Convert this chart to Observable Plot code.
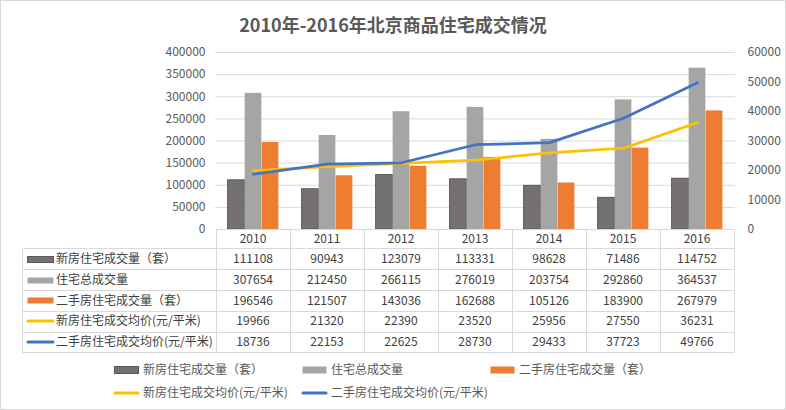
<!DOCTYPE html>
<html><head><meta charset="utf-8">
<script src="https://cdn.jsdelivr.net/npm/d3@7"></script>
<script src="https://cdn.jsdelivr.net/npm/@observablehq/plot@0.6"></script>
<style>
body{margin:0;background:#fff;}
#wrap{position:relative;width:786px;height:410px;overflow:hidden;font-family:"Noto Sans CJK SC",sans-serif;background:#fff;}
#title{position:absolute;top:10px;left:0;width:786px;text-align:center;font-size:18px;font-weight:bold;color:#595959;line-height:28px;}
#chart{position:absolute;left:0;top:40px;}
#overlay{position:absolute;left:0;top:0;}
#frame{position:absolute;left:0;top:0;width:786px;height:410px;box-sizing:border-box;border:1px solid #d9d9d9;pointer-events:none;}
</style></head>
<body><div id="wrap"><div id="title">2010年-2016年北京商品住宅成交情况</div><div id="chart"></div><svg id="overlay" width="786" height="410"></svg><div id="frame"></div></div>
<script>
const years = ["2010", "2011", "2012", "2013", "2014", "2015", "2016"];
const newUnits = [111108, 90943, 123079, 113331, 98628, 71486, 114752];
const totalUnits = [307654, 212450, 266115, 276019, 203754, 292860, 364537];
const resaleUnits = [196546, 121507, 143036, 162688, 105126, 183900, 267979];
const newPrice = [19966, 21320, 22390, 23520, 25956, 27550, 36231];
const resalePrice = [18736, 22153, 22625, 28730, 29433, 37723, 49766];
const seriesNames = ["新房住宅成交量（套）", "住宅总成交量", "二手房住宅成交量（套）", "新房住宅成交均价(元/平米)", "二手房住宅成交均价(元/平米)"];
const leftTicks = [0, 50000, 100000, 150000, 200000, 250000, 300000, 350000, 400000];
const rightTicks = [0, 10000, 20000, 30000, 40000, 50000, 60000];

const colors = ["#767171", "#a5a5a5", "#ed7d31", "#ffc000", "#4472c4"];
const kinds = ["bar", "bar", "bar", "line", "line"];
const allSeries = [newUnits, totalUnits, resaleUnits, newPrice, resalePrice];
const k = 400000 / 60000;

const W = 786, mL = 215, mR = 51;
const bw = (W - mL - mR) / years.length;
const barW = bw * 0.229;
const off = (bw - 3 * barW) / 2;

const barMarks = [0, 1, 2].map(j => {
  const data = years.map((y, i) => ({year: y, value: allSeries[j][i]}));
  return Plot.barY(data, {
    x: "year", y: "value", fill: colors[j],
    stroke: j === 0 ? "#595959" : null, strokeWidth: 1,
    insetLeft: off + j * barW, insetRight: bw - off - (j + 1) * barW
  });
});
const lineMarks = [3, 4].map(j => {
  const data = years.map((y, i) => ({year: y, value: allSeries[j][i] * k}));
  return Plot.line(data, {x: "year", y: "value", stroke: colors[j], strokeWidth: 2.75, strokeLinecap: "round", strokeLinejoin: "round"});
});

const plot = Plot.plot({
  width: W, height: 200,
  marginLeft: mL, marginRight: mR, marginTop: 12, marginBottom: 11,
  style: {fontFamily: '"Noto Sans CJK SC", sans-serif', fontSize: "12px", color: "#595959", overflow: "visible", background: "transparent"},
  x: {domain: years, padding: 0, axis: null},
  y: {domain: [0, 400000], axis: null},
  marks: [
    Plot.gridY(leftTicks, {stroke: "#d9d9d9", strokeOpacity: 1}),
    ...barMarks,
    Plot.ruleY([0], {stroke: "#d9d9d9"}),
    ...lineMarks,
    Plot.axisY(leftTicks, {anchor: "left", tickSize: 0, tickPadding: 10, label: null, tickFormat: d => String(d)}),
    Plot.axisY(rightTicks.map(v => v * k), {anchor: "right", tickSize: 0, tickPadding: 12, label: null, tickFormat: d => String(Math.round(d / k))})
  ]
});
document.getElementById("chart").appendChild(plot);

// data table under the chart, aligned with the x scale
const xs = plot.scale("x");
const ov = d3.select("#overlay");
const tableTop = 229, yearRowH = 19.3, rowH = 20.8, labelLeft = 22;
const colEdges = years.map(y => xs.apply(y)).concat([xs.apply(years[years.length - 1]) + xs.bandwidth]);
const rowEdges = d3.range(0, seriesNames.length + 1).map(r => tableTop + yearRowH + r * rowH);
const crisp = v => Math.round(v) + 0.5;
const lineColor = "#d9d9d9";
const g = ov.append("g");
colEdges.forEach(x => g.append("line").attr("x1", crisp(x)).attr("x2", crisp(x)).attr("y1", tableTop).attr("y2", crisp(rowEdges[rowEdges.length - 1])).attr("stroke", lineColor));
g.append("line").attr("x1", crisp(labelLeft)).attr("x2", crisp(labelLeft)).attr("y1", crisp(rowEdges[0])).attr("y2", crisp(rowEdges[rowEdges.length - 1])).attr("stroke", lineColor);
rowEdges.forEach(y => g.append("line").attr("x1", crisp(labelLeft)).attr("x2", crisp(colEdges[colEdges.length - 1])).attr("y1", crisp(y)).attr("y2", crisp(y)).attr("stroke", lineColor));

const txt = (x, y, s, anchor) => g.append("text").attr("x", x).attr("y", y).attr("dy", "0.35em")
  .attr("text-anchor", anchor).attr("font-size", 12).attr("fill", "#404040").text(s);
years.forEach((y, i) => txt(xs.apply(y) + xs.bandwidth / 2, tableTop + yearRowH / 2, y, "middle"));
seriesNames.forEach((name, r) => {
  const cy = rowEdges[r] + rowH / 2;
  if (kinds[r] === "bar") {
    g.append("rect").attr("x", 27.5).attr("y", Math.round(cy - 3) + 0.5).attr("width", 26).attr("height", 6)
      .attr("fill", colors[r]).attr("stroke", r === 0 ? "#595959" : "none");
  } else {
    g.append("line").attr("x1", 28).attr("x2", 53).attr("y1", cy).attr("y2", cy)
      .attr("stroke", colors[r]).attr("stroke-width", 3).attr("stroke-linecap", "round");
  }
  txt(56, cy, name, "start");
  years.forEach((y, i) => txt(xs.apply(y) + xs.bandwidth / 2, cy, String(allSeries[r][i]), "middle"));
});

// legend
const legendPos = [[114, 370], [302, 370], [490, 370], [114, 393], [302, 393]];
seriesNames.forEach((name, r) => {
  const [lx, ly] = legendPos[r];
  if (kinds[r] === "bar") {
    g.append("rect").attr("x", lx + 0.5).attr("y", ly - 3.5).attr("width", 24).attr("height", 7)
      .attr("fill", colors[r]).attr("stroke", r === 0 ? "#595959" : "none");
  } else {
    g.append("line").attr("x1", lx + 1).attr("x2", lx + 24).attr("y1", ly).attr("y2", ly)
      .attr("stroke", colors[r]).attr("stroke-width", 3).attr("stroke-linecap", "round");
  }
  g.append("text").attr("x", lx + 29).attr("y", ly).attr("dy", "0.35em").attr("font-size", 12)
    .attr("fill", "#595959").text(name);
});
</script>
</body></html>
